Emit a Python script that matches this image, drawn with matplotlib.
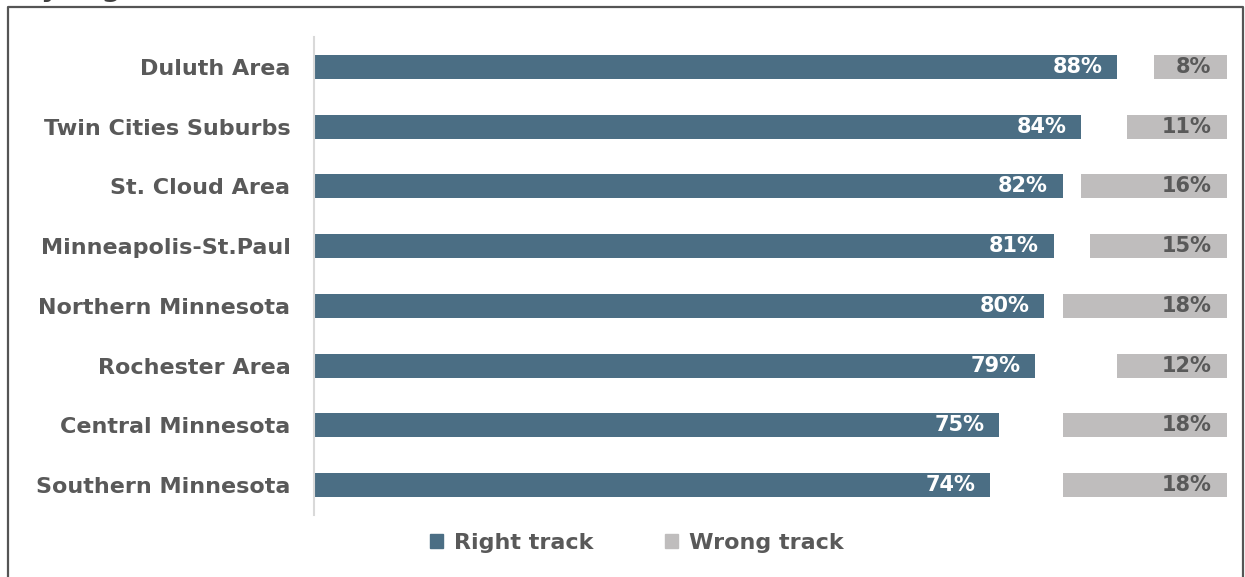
import numpy as np
import matplotlib.pyplot as plt
from matplotlib.lines import Line2D
from matplotlib.patches import Patch

plt.rcParams['font.family'] = 'DejaVu Sans'

regions = ['Duluth Area', 'Twin Cities Suburbs', 'St. Cloud Area', 'Minneapolis-St.Paul',
           'Northern Minnesota', 'Rochester Area', 'Central Minnesota', 'Southern Minnesota']
right_track = [88, 84, 82, 81, 80, 79, 75, 74]
wrong_track = [8, 11, 16, 15, 18, 12, 18, 18]

c_right = '#4b6e84'
c_wrong = '#bfbdbd'
c_text = '#595959'

fig = plt.figure(figsize=(12.45, 5.77), dpi=100)
ax = fig.add_axes([314/1245, 1-515/577, (1227-314)/1245, (515-37)/577])

y = np.arange(len(regions))
wrong = np.array(wrong_track)
ax.barh(y, right_track, height=0.4, color=c_right, label='Right track')
ax.barh(y, wrong, left=100-wrong, height=0.4, color=c_wrong, label='Wrong track')

for i in range(len(regions)):
    ax.text(right_track[i]-1.6, y[i], '%d%%' % right_track[i], ha='right', va='center',
            color='white', fontsize=15, fontweight='bold')
    ax.text(100-1.7, y[i], '%d%%' % wrong_track[i], ha='right', va='center',
            color=c_text, fontsize=15, fontweight='bold')

ax.set_xlim(0, 100)
ax.set_ylim(7.5, -0.5)
ax.set_yticks(y)
ax.set_yticklabels(regions, fontsize=16, fontweight='bold', color=c_text)
ax.tick_params(axis='y', length=0, pad=17)
ax.set_xticks([])
for s in ['top', 'right', 'bottom']:
    ax.spines[s].set_visible(False)
ax.spines['left'].set_color('#d9d9d9')
ax.spines['left'].set_linewidth(1.5)

handles = [Patch(color=c_right), Patch(color=c_wrong)]
leg = fig.legend(handles, ['Right track', 'Wrong track'], loc='center', bbox_to_anchor=(637/1245, 1-543/577),
                 ncol=2, frameon=False, handlelength=0.6, handleheight=0.6, handletextpad=0.5,
                 columnspacing=3.2, prop={'size': 16, 'weight': 'bold'})
for t in leg.get_texts():
    t.set_color(c_text)

# outer frame
fx = [8/1245, 8/1245, 1243/1245, 1243/1245]
fy = [-0.1, 1-7/577, 1-7/577, -0.1]
fig.add_artist(Line2D(fx, fy, color='#555555', lw=1.6, transform=fig.transFigure))

# title sits above the crop, only its descenders show
fig.text(20/1245, 1+4/577, 'By region', fontsize=20, fontweight='bold', color='#404040',
         ha='left', va='baseline')

fig.savefig('out.png', dpi=100)
